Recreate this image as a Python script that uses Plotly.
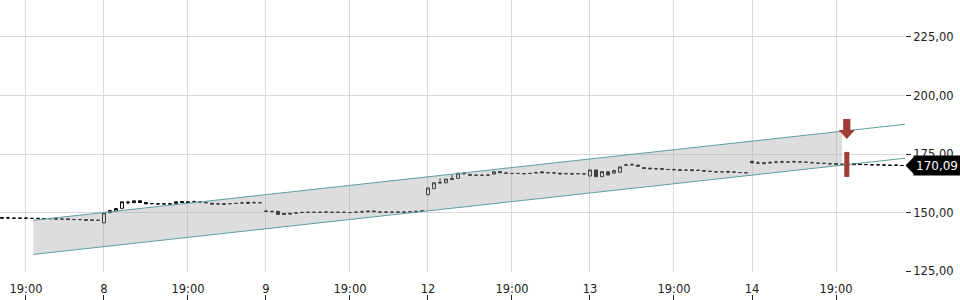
import plotly.graph_objects as go

# ---------------- data ----------------
opens = [
    147.9,147.7,147.6,147.6,147.6,147.5,147.5,147.4,147.4,147.5,
    147.2,147.3,147.0,147.0,147.0,146.9,146.7,145.6,149.9,150.6,
    151.8,154.2,154.2,155.0,154.3,153.8,153.7,153.7,153.7,153.9,
    154.7,154.6,154.5,154.4,154.2,154.0,153.7,153.8,153.8,153.9,
    154.1,154.4,154.2,154.2,150.6,150.4,150.5,149.6,149.7,149.8,
    150.0,150.1,150.1,150.1,150.2,150.1,150.1,150.1,150.0,150.1,
    150.3,150.7,150.7,150.2,150.2,150.2,150.2,150.2,150.3,150.6,
    150.8,157.6,160.2,162.6,162.7,164.5,164.6,166.6,166.3,165.9,
    165.9,166.0,166.4,167.5,166.8,166.7,166.7,166.6,166.7,167.0,
    167.4,167.0,166.9,166.8,166.6,166.5,166.6,166.5,165.6,168.2,
    165.3,167.4,166.8,167.2,170.3,170.4,170.3,169.2,169.0,168.7,
    168.8,168.4,168.3,168.3,168.1,168.3,168.0,168.0,167.6,167.4,
    167.4,167.6,167.3,167.1,167.0,171.9,171.1,171.3,171.3,171.5,
    171.6,171.6,171.7,171.6,171.5,171.3,171.1,171.0,170.8,170.9,
    170.6,170.7,170.4,170.8,170.5,170.4,170.4,170.3,170.2,170.2,
    170.09,
]
highs = [
    147.9,148.2,147.6,147.6,147.6,147.5,147.5,147.4,147.4,147.5,
    147.2,147.3,147.0,147.0,147.0,146.9,146.7,150.0,151.0,151.7,
    154.6,155.0,155.0,155.0,154.3,153.8,153.7,153.7,153.7,154.6,
    154.7,154.6,155.1,154.4,154.2,154.0,153.7,153.8,153.8,153.9,
    154.6,154.4,154.7,154.2,151.2,151.0,150.5,149.6,149.7,149.8,
    150.5,150.1,150.1,150.1,150.2,150.1,150.1,150.1,150.0,150.7,
    150.8,150.7,150.7,150.2,150.2,150.2,150.2,150.2,150.3,150.6,
    150.8,160.5,162.7,164.6,164.3,166.0,166.8,167.2,166.3,166.4,
    166.4,166.0,167.4,167.5,167.4,166.7,166.7,166.6,166.7,167.5,
    167.4,167.0,167.4,166.8,166.6,167.0,166.6,166.5,168.2,168.2,
    167.5,167.4,168.4,169.5,170.9,171.0,170.3,169.2,169.0,168.7,
    168.8,168.4,168.8,168.3,168.1,168.3,168.5,168.0,167.6,167.4,
    167.4,167.6,167.3,167.1,167.0,171.9,172.0,171.3,171.9,172.1,
    172.1,171.6,172.2,171.6,171.5,171.8,171.1,171.0,171.3,170.9,
    170.6,170.7,170.8,170.8,170.5,170.4,170.4,170.3,170.2,170.7,
    170.09,
]
lows = [
    147.6,147.7,147.6,147.6,147.6,147.5,147.5,147.4,147.4,147.2,
    147.2,147.0,147.0,147.0,146.7,146.6,146.7,145.4,149.9,150.6,
    151.8,153.6,154.2,154.3,153.7,153.8,153.7,153.7,153.7,153.9,
    154.3,154.3,154.5,154.4,154.2,153.6,153.7,153.5,153.8,153.9,
    154.1,154.0,154.2,154.2,150.5,150.4,149.2,149.2,149.4,149.8,
    150.0,150.1,150.1,150.1,150.2,150.1,150.1,150.1,150.0,150.1,
    150.3,150.4,150.4,150.2,150.2,150.2,150.2,150.2,150.3,150.4,
    150.5,157.6,160.2,162.6,162.7,164.1,164.6,166.6,165.9,165.9,
    165.9,166.0,166.4,167.0,166.8,166.7,166.7,166.6,166.7,167.0,
    167.0,167.0,166.9,166.5,166.6,166.5,166.6,166.5,165.6,165.3,
    165.3,166.0,166.8,167.2,170.3,170.4,169.8,168.8,168.7,168.7,
    168.5,168.4,168.3,168.0,168.1,167.9,168.0,167.7,167.6,167.4,
    167.4,167.3,167.3,167.1,167.0,171.2,171.1,170.9,170.8,171.0,
    171.2,171.6,171.3,171.6,171.5,171.3,171.1,171.0,170.8,170.6,
    170.6,170.4,170.4,170.5,170.5,170.4,170.4,170.3,170.2,170.2,
    170.09,
]
closes = [
    147.6,147.7,147.6,147.6,147.6,147.5,147.5,147.4,147.4,147.2,
    147.2,147.0,147.0,147.0,146.7,146.6,146.7,149.8,150.9,151.7,
    154.6,154.4,155.0,154.3,153.7,153.8,153.7,153.7,153.7,154.6,
    154.3,154.3,154.5,154.4,154.2,153.6,153.7,153.5,153.8,153.9,
    154.1,154.0,154.2,154.2,150.5,150.4,149.2,149.2,149.4,149.8,
    150.0,150.1,150.1,150.1,150.2,150.1,150.1,150.1,150.0,150.1,
    150.3,150.4,150.4,150.2,150.2,150.2,150.2,150.2,150.3,150.4,
    150.5,160.5,162.7,162.8,164.3,164.1,166.8,166.6,165.9,165.9,
    165.9,166.0,167.4,167.0,166.8,166.7,166.7,166.6,166.7,167.0,
    167.0,167.0,166.9,166.5,166.6,166.5,166.6,166.5,168.2,165.3,
    167.5,166.0,167.9,169.5,170.3,170.4,169.8,168.8,168.7,168.7,
    168.5,168.4,168.3,168.0,168.1,167.9,168.0,167.7,167.6,167.4,
    167.4,167.3,167.3,167.1,167.0,171.2,171.1,170.9,171.3,171.5,
    171.6,171.6,171.7,171.6,171.5,171.3,171.1,171.0,170.8,170.6,
    170.6,170.4,170.8,170.5,170.5,170.4,170.4,170.3,170.2,170.2,
    170.09,
]
bar_index = list(range(len(closes)))

tick_index = [4, 17, 31, 44, 58, 71, 85, 98, 112, 125, 139]
tick_labels = ["19:00", "8", "19:00", "9", "19:00", "12", "19:00", "13", "19:00", "14", "19:00"]

y_ticks = [125, 150, 175, 200, 225]

# regression channel (bar index / price)
channel_x = [5.2, 150.5]
channel_upper = [146.7, 187.7]
channel_lower = [132.1, 173.2]
channel_fill_end = 140.0

# sell signal
signal_x = 140.8
signal_arrow_top, signal_arrow_neck, signal_arrow_tip = 190.0, 185.3, 181.4
signal_bar_top, signal_bar_bottom = 175.9, 165.2

last_price = closes[-1]

# ---------------- styles ----------------
Y_RANGE = [124.6, 240.8]
X_RANGE = [-0.33, 150.5]
RED = "#a13d37"
TEAL = "#5f9ea0"
GRID = "#d9d9d9"
FONT = "DejaVu Sans"
FS = 11.5
TXT = "#222222"

fig = go.Figure()

def line_at(xv, xs, ys):
    return ys[0] + (ys[1] - ys[0]) * (xv - xs[0]) / (xs[1] - xs[0])

up_end = line_at(channel_fill_end, channel_x, channel_upper)
lo_end = line_at(channel_fill_end, channel_x, channel_lower)
fig.add_trace(go.Scatter(
    x=[channel_x[0], channel_fill_end, channel_fill_end, channel_x[0], channel_x[0]],
    y=[channel_upper[0], up_end, lo_end, channel_lower[0], channel_upper[0]],
    fill="toself", fillcolor="rgba(165,165,165,0.38)", line=dict(width=0),
    mode="lines", hoverinfo="skip", showlegend=False))

for ys in (channel_upper, channel_lower):
    fig.add_trace(go.Scatter(x=channel_x, y=ys, mode="lines",
                             line=dict(color=TEAL, width=1), showlegend=False,
                             hoverinfo="skip"))

fig.add_trace(go.Candlestick(
    x=bar_index, open=opens, high=highs, low=lows, close=closes,
    increasing=dict(line=dict(color="black", width=1), fillcolor="white"),
    decreasing=dict(line=dict(color="black", width=1), fillcolor="black"),
    whiskerwidth=0, showlegend=False))

# invisible trace so the bottom tick-mark axis is drawn
fig.add_trace(go.Scatter(x=tick_index, y=[None] * len(tick_index), xaxis="x2",
                         mode="markers", showlegend=False, hoverinfo="skip"))

shapes = []
# arrow
sw, hw = 0.6, 1.35
shapes.append(dict(
    type="path", xref="x", yref="y",
    path=(f"M {signal_x - sw} {signal_arrow_top} L {signal_x + sw} {signal_arrow_top} "
          f"L {signal_x + sw} {signal_arrow_neck} L {signal_x + hw} {signal_arrow_neck} "
          f"L {signal_x} {signal_arrow_tip} L {signal_x - hw} {signal_arrow_neck} "
          f"L {signal_x - sw} {signal_arrow_neck} Z"),
    fillcolor=RED, line=dict(width=0)))
bw = 0.42
shapes.append(dict(type="rect", xref="x", yref="y",
                   x0=signal_x - bw, x1=signal_x + bw,
                   y0=signal_bar_bottom, y1=signal_bar_top,
                   fillcolor=RED, line=dict(width=0)))

# price tag at right
W, H = 960, 300
plot_w = 905
plot_h = 272
py = (Y_RANGE[1] - last_price) / (Y_RANGE[1] - Y_RANGE[0]) * plot_h
yc = 1 - py / H
hh = 9.5 / H
x_tip = 905.5 / plot_w
x_body = 913 / plot_w
shapes.append(dict(
    type="path", xref="paper", yref="paper",
    path=(f"M {x_tip} {yc} L {x_body + 0.002} {yc + hh} "
          f"L {x_body + 0.002} {yc - hh} Z"),
    fillcolor="black", line=dict(width=0)))

fig.add_annotation(x=x_body, y=yc, xref="paper", yref="paper",
                   text=f"{last_price:.2f}".replace(".", ","), showarrow=False,
                   font=dict(color="white", size=12, family=FONT),
                   bgcolor="black", borderpad=1, width=44, height=17,
                   xanchor="left", yanchor="middle", align="center")

fig.update_layout(
    width=W, height=H,
    margin=dict(l=0, r=W - plot_w, t=0, b=0, autoexpand=False),
    paper_bgcolor="white", plot_bgcolor="white",
    separators=",.",
    font=dict(family=FONT, size=FS, color=TXT),
    shapes=shapes,
    xaxis=dict(range=X_RANGE, tickvals=tick_index, ticktext=tick_labels,
               showgrid=True, gridcolor=GRID, gridwidth=1, zeroline=False,
               showline=False, ticks="outside", ticklen=6,
               tickcolor="rgba(0,0,0,0)", automargin=False,
               rangeslider=dict(visible=False),
               tickfont=dict(size=FS, color=TXT)),
    xaxis2=dict(range=X_RANGE, overlaying="x", anchor="free", position=0,
                side="bottom", tickvals=tick_index, ticks="inside", ticklen=5,
                tickcolor=TXT, showticklabels=False, showgrid=False,
                zeroline=False, showline=False, automargin=False),
    yaxis=dict(range=Y_RANGE, side="right", tickvals=y_ticks, tickformat=".2f",
               showgrid=True, gridcolor=GRID, gridwidth=1, zeroline=False,
               ticks="outside", ticklen=5, tickcolor=TXT, automargin=False,
               domain=[1 - plot_h / H, 1], showline=False,
               tickfont=dict(size=FS, color=TXT)),
    hovermode=False,
)

fig.write_html("out.html")
